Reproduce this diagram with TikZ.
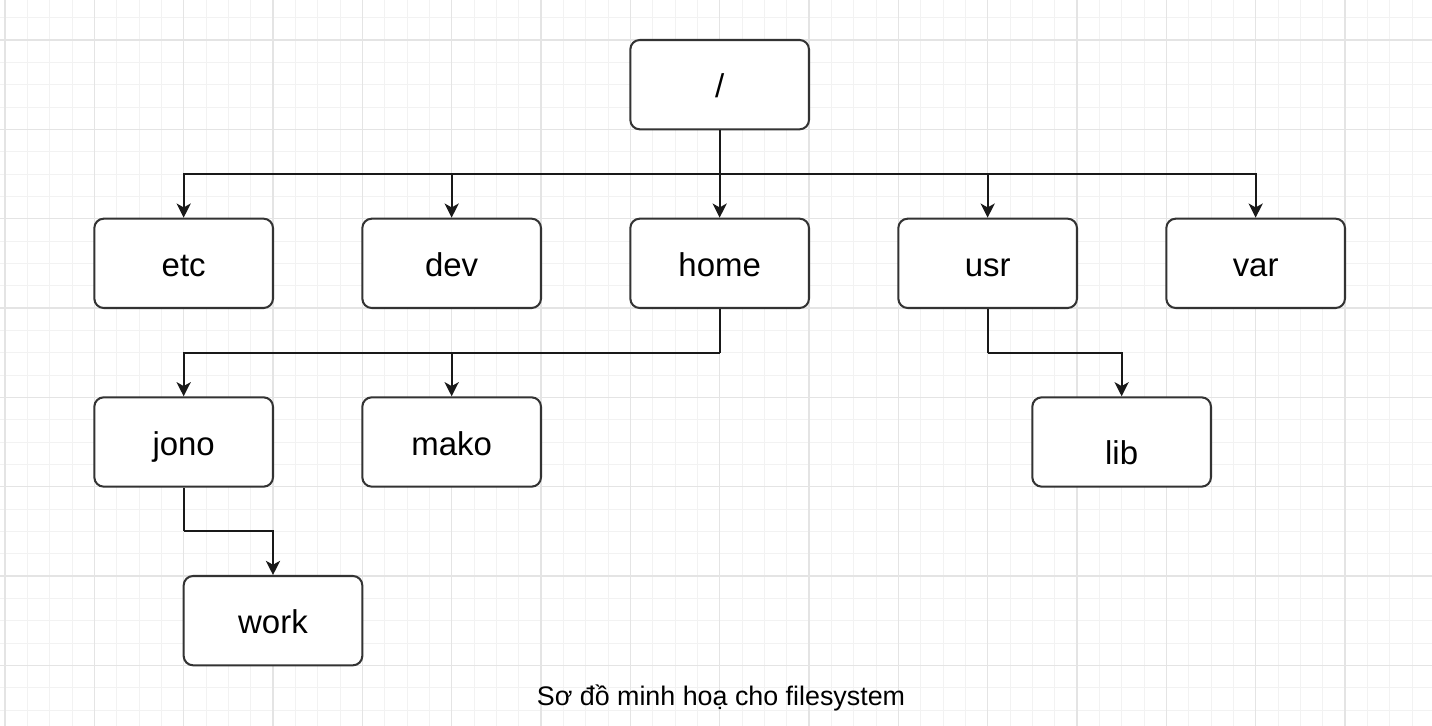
\documentclass[tikz,border=0pt]{standalone}
\usepackage{fontspec}
\setmainfont{Liberation Sans}
\usepackage{tikz}
\usetikzlibrary{arrows.meta}
\definecolor{minorline}{HTML}{F2F2F2}
\definecolor{majorline}{HTML}{E4E4E4}
\definecolor{boxline}{HTML}{333333}

\begin{document}
\begin{tikzpicture}[x=0.5cm, y=-0.5cm,
    dirbox/.style={draw=boxline, line width=1.3pt, rounded corners=6pt, fill=white,
        minimum width=4cm, minimum height=2cm, text height=20pt, text depth=3.4pt,
        font=\fontsize{21}{25}\selectfont},
    link/.style={draw=black!90, line width=1.3pt, -{Stealth[length=9pt, width=9pt, inset=2.5pt]}},
    trunk/.style={draw=black!90, line width=1.3pt}]
            \useasboundingbox (-0.224, -1.791) rectangle (63.897, 30.716);
            \fill[white] (-0.224, -1.791) rectangle (63.897, 30.716);

            \foreach \i in {0, 1, ..., 63} {
                \draw[minorline, line width=0.6pt] (\i, -1.8) -- (\i, 30.8);
            }
            \foreach \j in {-1, 0, ..., 30} {
                \draw[minorline, line width=0.6pt] (-0.3, \j) -- (64, \j);
            }
            \foreach \i in {0, 4, ..., 60} {
                \draw[majorline, line width=0.7pt] (\i, -1.8) -- (\i, 30.8);
            }
            \foreach \j in {0, 4, ..., 28} {
                \draw[majorline, line width=0.7pt] (-0.3, \j) -- (64, \j);
            }

            \node (root) at (32, 2) [dirbox] {/};
            \node (etc) at (8, 10) [dirbox] {etc};
            \node (dev) at (20, 10) [dirbox] {dev};
            \node (home) at (32, 10) [dirbox] {home};
            \node (usr) at (44, 10) [dirbox] {usr};
            \node (var) at (56, 10) [dirbox] {var};
            \node (jono) at (8, 18) [dirbox] {jono};
            \node (mako) at (20, 18) [dirbox] {mako};
            \node (lib) at (50, 18) [dirbox] {\raisebox{-6pt}[\height][\depth]{lib}};
            \node (work) at (12, 26) [dirbox] {work};

            \coordinate (rootbus) at (32, 6);
            \coordinate (homebus) at (32, 14);
            \coordinate (usrbus) at (44, 14);
            \coordinate (jonobus) at (8, 22);

            \draw[trunk] (root) -- (rootbus);
            \foreach \d in {etc, dev, home, usr, var} {
                \draw[link] (rootbus) -| (\d.north);
            }

            \draw[trunk] (home) -- (homebus);
            \foreach \d in {jono, mako} {
                \draw[link] (homebus) -| (\d.north);
            }

            \draw[trunk] (usr) -- (usrbus);
            \draw[link] (usrbus) -| (lib.north);

            \draw[trunk] (jono) -- (jonobus);
            \draw[link] (jonobus) -| (work.north);

            \node (caption) at (32.06, 29.46) [font=\fontsize{17.1}{20}\selectfont] {Sơ đồ minh hoạ cho filesystem};
        \end{tikzpicture}
\end{document}
